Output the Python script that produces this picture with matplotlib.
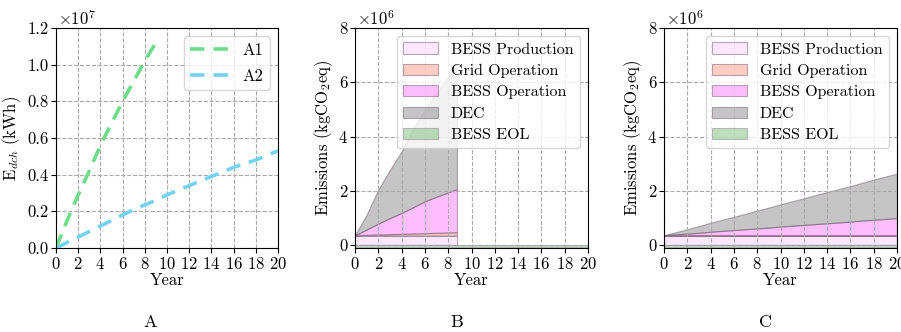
import numpy as np
import matplotlib
matplotlib.use("Agg")
import matplotlib.pyplot as plt
from matplotlib.ticker import FuncFormatter

plt.rcParams.update({
    "font.family": "serif",
    "font.serif": ["cmr10", "DejaVu Serif"],
    "mathtext.fontset": "cm",
    "axes.formatter.use_mathtext": True,
    "font.size": 12,
})

# ---- data ----
years_a1 = [0, 1, 2, 3, 4, 5, 6, 7, 8, 8.9]
edch_a1 = [0.0, 0.15e7, 0.29e7, 0.42e7, 0.56e7, 0.68e7, 0.80e7, 0.91e7, 1.02e7, 1.11e7]
years_a2 = list(range(0, 21))
edch_a2 = [0.0, 0.03e7, 0.06e7, 0.09e7, 0.12e7, 0.15e7, 0.18e7, 0.21e7, 0.235e7, 0.26e7,
           0.29e7, 0.315e7, 0.34e7, 0.365e7, 0.39e7, 0.415e7, 0.44e7, 0.46e7, 0.48e7, 0.505e7, 0.53e7]

labels = ["BESS Production", "Grid Operation", "BESS Operation", "DEC", "BESS EOL"]
colors = ["#ffd0ff", "#ff9a8a", "#ff80ff", "#8c8c8c", "#7fbf7f"]

years_b = [0, 1, 2, 3, 4, 5, 6, 7, 8, 8.75]
prod_b = [0.36e6] * 10
grid_b = [0.01e6, 0.023e6, 0.035e6, 0.048e6, 0.06e6, 0.073e6, 0.085e6, 0.098e6, 0.11e6, 0.12e6]
op_b = [0.0, 0.197e6, 0.405e6, 0.592e6, 0.77e6, 0.967e6, 1.175e6, 1.332e6, 1.48e6, 1.59e6]
dec_b = [0.0, 0.55e6, 1.25e6, 1.78e6, 2.27e6, 2.9e6, 3.38e6, 3.81e6, 4.25e6, 4.63e6]

years_c = list(range(0, 21))
prod_c = [0.35e6] * 21
grid_c = [0.02e6] * 21
op_c = [0.0, 0.03e6, 0.06e6, 0.09e6, 0.13e6, 0.16e6, 0.19e6, 0.22e6, 0.25e6, 0.28e6, 0.32e6,
        0.35e6, 0.38e6, 0.41e6, 0.44e6, 0.47e6, 0.50e6, 0.54e6, 0.57e6, 0.60e6, 0.63e6]
dec_c = [0.0, 0.08e6, 0.16e6, 0.25e6, 0.33e6, 0.41e6, 0.49e6, 0.57e6, 0.66e6, 0.74e6, 0.82e6,
         0.90e6, 0.98e6, 1.07e6, 1.15e6, 1.23e6, 1.31e6, 1.39e6, 1.48e6, 1.56e6, 1.64e6]

years_eol = [0, 20]
eol = [-0.06e6, -0.06e6]

W, H = 901, 332
fig = plt.figure(figsize=(W / 100, H / 100), dpi=100)

def box(l, r, t, b):
    return [l / W, 1 - b / H, (r - l) / W, (b - t) / H]

axA = fig.add_axes(box(56, 278, 28, 248))
axB = fig.add_axes(box(355, 588, 28, 248))
axC = fig.add_axes(box(664, 897, 28, 248))

grid_kw = dict(color="#aaaaaa", linestyle="--", linewidth=0.8)

# Panel A
axA.plot(years_a1, edch_a1, ls=(0, (4, 2.5)), lw=2.6, color="#6fdc8c", label="A1")
axA.plot(years_a2, edch_a2, ls=(0, (4, 2.5)), lw=2.6, color="#74d3f0", label="A2")
axA.set_xlim(0, 20)
axA.set_ylim(0, 1.2e7)
axA.set_xticks(range(0, 21, 2))
axA.set_yticks(np.arange(0, 1.21e7, 0.2e7))
axA.yaxis.set_major_formatter(FuncFormatter(lambda v, p: f"{v/1e7:.1f}"))
axA.text(0.01, 1.0, r"$\times10^{7}$", transform=axA.transAxes, ha="left", va="bottom")
axA.grid(True, **grid_kw)
axA.set_xlabel("Year", labelpad=1)
axA.set_ylabel(r"E$_{dch}$ (kWh)", labelpad=3)
axA.legend(loc="upper right", handlelength=2.3, fontsize=12, framealpha=0.8,
           edgecolor="#cccccc", labelspacing=0.6)

def stack_panel(ax, x, prod, grid, op, dec):
    ax.stackplot(x, prod, grid, op, dec, colors=colors[:4], alpha=0.5,
                 edgecolor="#6e5a6e", linewidth=0.8, labels=labels[:4])
    ax.fill_between(years_eol, eol, 0, color=colors[4], alpha=0.5,
                    edgecolor="#888888", linewidth=0.8, label=labels[4])
    ax.set_xlim(0, 20)
    ax.set_ylim(-0.1e6, 8e6)
    ax.set_xticks(range(0, 21, 2))
    ax.set_yticks([0, 2e6, 4e6, 6e6, 8e6])
    ax.yaxis.set_major_formatter(FuncFormatter(lambda v, p: f"{v/1e6:.0f}"))
    ax.text(0.01, 1.0, r"$\times10^{6}$", transform=ax.transAxes, ha="left", va="bottom")
    ax.grid(True, **grid_kw)
    ax.set_xlabel("Year", labelpad=1)
    ax.set_ylabel(r"Emissions (kgCO$_2$eq)", labelpad=3)
    ax.legend(loc="upper right", fontsize=11.5, framealpha=0.8, edgecolor="#cccccc",
              handlelength=2.2, labelspacing=0.45)

stack_panel(axB, years_b, prod_b, grid_b, op_b, dec_b)
stack_panel(axC, years_c, prod_c, grid_c, op_c, dec_c)

for ax in (axA, axB, axC):
    ax.tick_params(labelsize=12, length=3.5, pad=2)

fig.text(150 / W, 1 - 322 / H, "A", ha="center", va="center", fontsize=13)
fig.text(457 / W, 1 - 322 / H, "B", ha="center", va="center", fontsize=13)
fig.text(766 / W, 1 - 322 / H, "C", ha="center", va="center", fontsize=13)

fig.savefig("out.png", dpi=100)
